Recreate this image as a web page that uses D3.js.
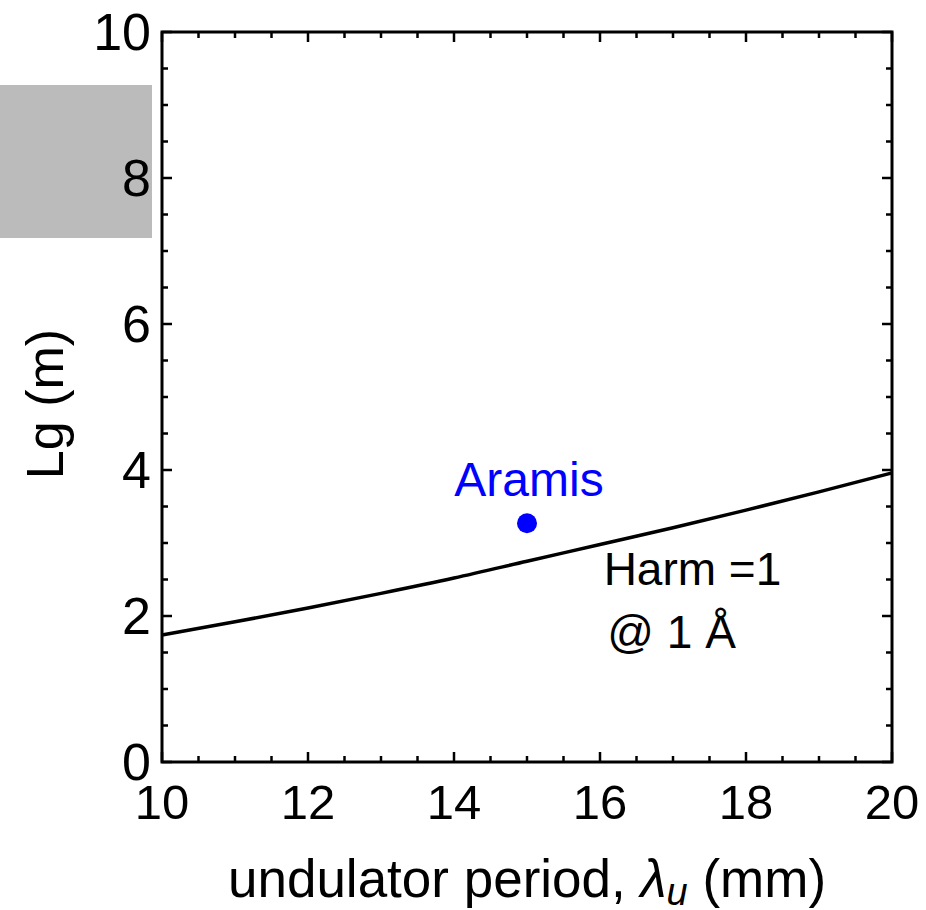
<!DOCTYPE html>
<html>
<head>
<meta charset="utf-8">
<script src="https://cdn.jsdelivr.net/npm/d3@7"></script>
<style>
  body { margin: 0; background: #fff; }
  svg text { font-family: "Liberation Sans", Arial, sans-serif; }
</style>
</head>
<body>
<svg id="chart"></svg>
<script>
var width = 926,
    height = 910,
    margin = {
        top: 32,
        left: 162,
        right: 34,
        bottom: 148
    }

// undulator period (mm) vs gain length (m), harmonic 1 @ 1 A
var periods = [10, 11, 12, 13, 14, 15, 16, 17, 18, 19, 20]
var gainLength = [1.74, 1.92, 2.11, 2.31, 2.52, 2.75, 2.98, 3.21, 3.45, 3.70, 3.96]
var aramis = { period: 15, lg: 3.27, name: "Aramis" }
var xTicks = [10, 12, 14, 16, 18, 20]
var yTicks = [0, 2, 4, 6, 8, 10]
var xMinor = d3.range(10, 20.01, 0.5)
var yMinor = d3.range(0, 10.01, 0.5)

var w = width - margin.left - margin.right,
    h = height - margin.top - margin.bottom

var svg = d3.select("#chart")
    .attr("width", width)
    .attr("height", height)

var xScale = d3.scaleLinear().domain([10, 20]).range([0, w])
var yScale = d3.scaleLinear().domain([0, 10]).range([h, 0])

// grey patch on the left edge
svg.append("rect")
    .attr("x", 0).attr("y", 85)
    .attr("width", 152).attr("height", 153)
    .attr("fill", "#bbbbbb")

var g = svg.append("g")
    .attr("transform", "translate(" + margin.left + "," + margin.top + ")")

function tickLen(v, majors) {
    return majors.indexOf(+v.toFixed(2)) >= 0 ? 10 : 6
}

// ticks on all four sides, pointing in
g.selectAll(".xtick-b").data(xMinor).enter().append("line")
    .attr("x1", d => xScale(d)).attr("x2", d => xScale(d))
    .attr("y1", h).attr("y2", d => h - tickLen(d, xTicks))
    .attr("stroke", "#000").attr("stroke-width", 2.5)
g.selectAll(".xtick-t").data(xMinor).enter().append("line")
    .attr("x1", d => xScale(d)).attr("x2", d => xScale(d))
    .attr("y1", 0).attr("y2", d => tickLen(d, xTicks))
    .attr("stroke", "#000").attr("stroke-width", 2.5)
g.selectAll(".ytick-l").data(yMinor).enter().append("line")
    .attr("y1", d => yScale(d)).attr("y2", d => yScale(d))
    .attr("x1", 0).attr("x2", d => tickLen(d, yTicks))
    .attr("stroke", "#000").attr("stroke-width", 2.5)
g.selectAll(".ytick-r").data(yMinor).enter().append("line")
    .attr("y1", d => yScale(d)).attr("y2", d => yScale(d))
    .attr("x1", w).attr("x2", d => w - tickLen(d, yTicks))
    .attr("stroke", "#000").attr("stroke-width", 2.5)

// frame
g.append("rect")
    .attr("width", w).attr("height", h)
    .attr("fill", "none").attr("stroke", "#000").attr("stroke-width", 3)

// tick labels
g.selectAll(".xlab").data(xTicks).enter().append("text")
    .attr("x", d => xScale(d)).attr("y", h + 57)
    .attr("text-anchor", "middle")
    .attr("font-size", 49)
    .text(d => d)
g.selectAll(".ylab").data(yTicks).enter().append("text")
    .attr("x", -11).attr("y", d => yScale(d))
    .attr("dy", "0.34em")
    .attr("text-anchor", "end")
    .attr("font-size", 52)
    .text(d => d)

// curve
var line = d3.line()
    .x((d, i) => xScale(periods[i]))
    .y(d => yScale(d))
    .curve(d3.curveMonotoneX)
g.append("path")
    .datum(gainLength)
    .attr("d", line)
    .attr("fill", "none").attr("stroke", "#000").attr("stroke-width", 3.5)

// Aramis point
g.append("circle")
    .attr("cx", xScale(aramis.period)).attr("cy", yScale(aramis.lg))
    .attr("r", 10).attr("fill", "#0000ff")
g.append("text")
    .attr("x", xScale(aramis.period) + 2).attr("y", yScale(aramis.lg) - 27)
    .attr("text-anchor", "middle")
    .attr("font-size", 48)
    .attr("fill", "#0000ff")
    .text(aramis.name)

// annotation
g.append("text")
    .attr("x", xScale(16.05)).attr("y", yScale(2.42))
    .attr("font-size", 46)
    .text("Harm =1")
g.append("text")
    .attr("x", xScale(16.1)).attr("y", yScale(1.56))
    .attr("font-size", 46)
    .text("@ 1 Å")

// axis titles
var xt = svg.append("text")
    .attr("x", margin.left + w / 2).attr("y", 897)
    .attr("text-anchor", "middle")
    .attr("font-size", 53)
xt.append("tspan").text("undulator period, ")
xt.append("tspan").attr("font-style", "italic").text("λ")
xt.append("tspan").attr("font-style", "italic").attr("font-size", 38).attr("dy", 8).text("u")
xt.append("tspan").attr("dy", -8).text(" (mm)")

svg.append("text")
    .attr("transform", "translate(63," + (margin.top + h / 2 + 7) + ") rotate(-90)")
    .attr("text-anchor", "middle")
    .attr("font-size", 52)
    .text("Lg (m)")
</script>
</body>
</html>
